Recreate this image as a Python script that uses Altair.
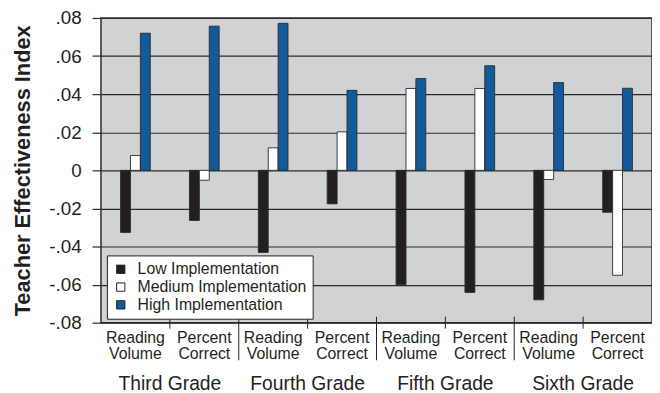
import altair as alt
import pandas as pd

grades = ["Third Grade", "Fourth Grade", "Fifth Grade", "Sixth Grade"]
measures = ["Reading Volume", "Percent Correct"]
levels = ["Low Implementation", "Medium Implementation", "High Implementation"]
low = [-0.0326, -0.0263, -0.0431, -0.0176, -0.0601, -0.0641, -0.0680, -0.0220]
medium = [0.0078, -0.0052, 0.0118, 0.0202, 0.0430, 0.0430, -0.0048, -0.0551]
high = [0.0720, 0.0757, 0.0772, 0.0420, 0.0482, 0.0549, 0.0461, 0.0431]
y_ticks = [-0.08, -0.06, -0.04, -0.02, 0.0, 0.02, 0.04, 0.06, 0.08]
colors = ["#231f20", "#ffffff", "#135a9a"]

FONT = "Liberation Sans"
INK = "#231f20"
W, H = 557, 308

subs = [f"{g}|{m}" for g in grades for m in measures]
rows = []
for i, s in enumerate(subs):
    for lev, series in zip(levels, [low, medium, high]):
        rows.append({"sub": s, "level": lev, "value": series[i]})
df = pd.DataFrame(rows)

xscale = alt.Scale(domain=subs, paddingInner=0, paddingOuter=0)
# empty slots either side of the three bars keep the group narrow, as in the original
offset_domain = ["_left"] + levels + ["_right"]

bars = alt.Chart(df).mark_bar(stroke="#2a2a2a", strokeWidth=0.9, opacity=1).encode(
    x=alt.X("sub:N", scale=xscale, title=None,
            axis=alt.Axis(ticks=False, domain=False, labelAngle=0,
                          labelExpr="split(split(datum.value, '|')[1], ' ')",
                          labelFont=FONT, labelFontSize=16, labelColor=INK,
                          labelLineHeight=16, labelPadding=7, labelOverlap=False)),
    xOffset=alt.XOffset("level:N", scale=alt.Scale(domain=offset_domain, paddingInner=0, paddingOuter=0.98)),
    y=alt.Y("value:Q", scale=alt.Scale(domain=[-0.08, 0.08], nice=False, zero=False),
            axis=alt.Axis(values=y_ticks, grid=True, gridColor="#2b2b2b", gridWidth=1.2,
                          tickColor="#2b2b2b", tickWidth=1.2, tickSize=9, domain=False,
                          labelExpr="datum.value == 0 ? '0' : (datum.value < 0 ? '-' : '') + '.0' + format(abs(datum.value) * 100, '.0f')",
                          labelFont=FONT, labelFontSize=19, labelColor=INK, labelPadding=11,
                          title="Teacher Effectiveness Index", titleFont=FONT, titleFontSize=22,
                          titleFontWeight="bold", titleColor=INK, titleAngle=-90,
                          titleX=-72, titleY=154, titleAlign="center", titleBaseline="alphabetic")),
    color=alt.Color("level:N", scale=alt.Scale(domain=levels, range=colors),
                    legend=alt.Legend(title=None, orient="none", legendX=6, legendY=240,
                                      fillColor="#ffffff", strokeColor=INK, padding=6,
                                      symbolType="square", symbolSize=70,
                                      symbolStrokeColor=INK, symbolStrokeWidth=1,
                                      labelFont=FONT, labelFontSize=16, labelColor=INK,
                                      labelLimit=0, labelOffset=9, rowPadding=2, offset=0)),
)

short_df = pd.DataFrame({"sub": [subs[1], subs[3], subs[5], subs[7]]})
long_df = pd.DataFrame({"sub": [subs[2], subs[4], subs[6]]})
grade_df = pd.DataFrame({"sub": [subs[1], subs[3], subs[5], subs[7]], "grade": grades})

short_ticks = alt.Chart(short_df).mark_rule(color=INK, strokeWidth=1).encode(
    x=alt.X("sub:N", scale=xscale, bandPosition=0),
    y=alt.value(H - 6), y2=alt.value(H + 6),
)
long_ticks = alt.Chart(long_df).mark_rule(color=INK, strokeWidth=1).encode(
    x=alt.X("sub:N", scale=xscale, bandPosition=0),
    y=alt.value(H - 6), y2=alt.value(H + 38),
)
grade_text = alt.Chart(grade_df).mark_text(font=FONT, fontSize=19.5, color=INK,
                                           baseline="alphabetic", align="center").encode(
    x=alt.X("sub:N", scale=xscale, bandPosition=0),
    y=alt.value(H + 68),
    text="grade:N",
)

chart = alt.layer(bars, short_ticks, long_ticks, grade_text).properties(
    width=W, height=H,
    padding={"left": 94, "top": 8, "right": 0, "bottom": 71},
    autosize=alt.AutoSizeParams(type="none"),
    background="#ffffff",
).configure_view(fill="#d1d2d4", stroke="#2b2b2b", strokeWidth=1.5)

chart.save("out.html", embed_options={"renderer": "svg", "actions": False})
